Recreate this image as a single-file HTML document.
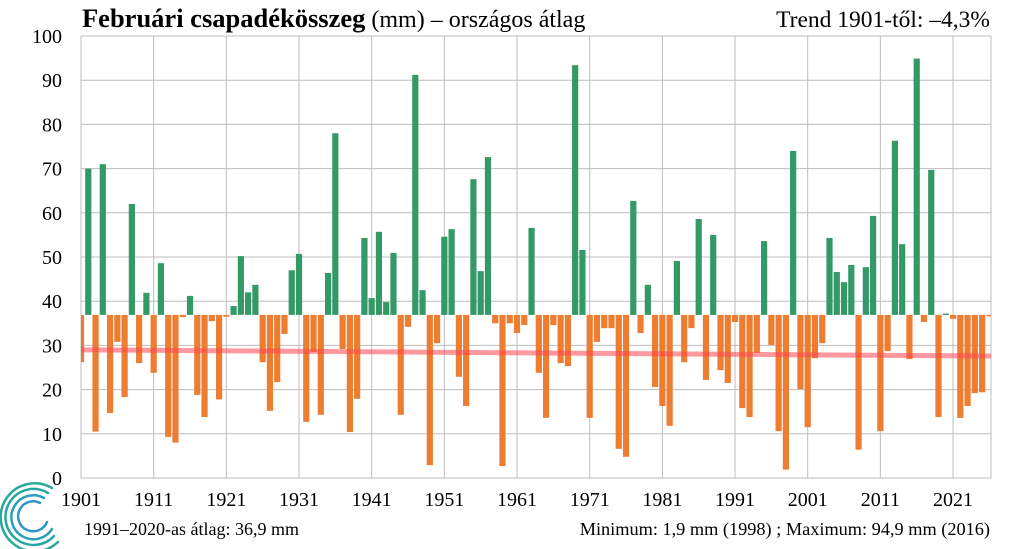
<!DOCTYPE html>
<html><head><meta charset="utf-8">
<style>
html,body{margin:0;padding:0;background:#fff;}
svg{display:block;font-family:"Liberation Serif",serif;}
</style></head>
<body>
<svg id="chart" width="1020" height="549" viewBox="0 0 1020 549">
  <text x="82" y="27" font-size="26.5"><tspan font-weight="bold">Februári csapadékösszeg</tspan><tspan font-size="24"> (mm) – országos átlag</tspan></text>
  <text x="990" y="27" font-size="23.5" text-anchor="end">Trend 1901-től: –4,3%</text>
  <g id="grid"></g>
  <g id="bars"></g>
  <g id="trend"></g>
  <g id="axes"></g>
  <text x="84" y="535" font-size="18">1991–2020-as átlag:  36,9 mm</text>
  <text x="990" y="535" font-size="18.3" text-anchor="end">Minimum:  1,9 mm (1998) ; Maximum:  94,9 mm (2016)</text>
  <g fill="none" stroke-linecap="round">
    <path d="M52 488 A34 34 0 1 0 58 542" stroke="#2aa89a" stroke-width="2.5"/>
    <path d="M48 493 A28 28 0 1 0 54 536" stroke="#28a7a0" stroke-width="2.5"/>
    <path d="M44 498 A22 22 0 1 0 52 529" stroke="#2aa0b8" stroke-width="2.5"/>
    <path d="M40 503 A15 15 0 1 0 47 522" stroke="#2f95c8" stroke-width="2.5"/>
  </g>
</svg>
<script>
const years = [];
for (let y = 1901; y <= 2026; y++) years.push(y);
const values = [26.2,70,10.5,71,14.7,30.8,18.3,62,26,41.9,
23.8,48.6,9.3,8,36.4,41.2,18.8,13.8,35.5,17.8,
36.5,38.9,50.2,42,43.7,26.2,15.2,21.7,32.6,47,
50.7,12.7,28.5,14.3,46.4,78,29.2,10.4,17.9,54.3,
40.7,55.7,39.8,50.9,14.3,34.2,91.2,42.5,2.9,30.5,
54.6,56.3,22.9,16.3,67.6,46.8,72.6,35,2.7,35,
32.8,34.6,56.6,23.8,13.6,34.6,26,25.3,93.4,51.6,
13.6,30.8,33.9,33.9,6.6,4.8,62.7,32.8,43.7,20.6,
16.3,11.8,49.1,26.2,33.9,58.6,22.2,55,24.4,21.5,
35.3,15.8,13.8,28.3,53.6,30.1,10.6,1.9,74,20.1,
11.5,27.1,30.5,54.3,46.6,44.3,48.2,6.4,47.7,59.3,
10.6,28.7,76.3,52.9,26.9,94.9,35.3,69.7,13.8,37.2,
36,13.6,16.3,19.2,19.4,36.6];
const baseline = 36.9;
const trendStart = 29.0, trendEnd = 27.6;
const yTicks = [0,10,20,30,40,50,60,70,80,90,100];
const xTickYears = [1901,1911,1921,1931,1941,1951,1961,1971,1981,1991,2001,2011,2021];

const NS = "http://www.w3.org/2000/svg";
const L = 81, R = 991, T = 36, B = 478;
const step = 7.267;
const xs = y => L + (y - 1901) * step;
const ys = v => B - (v / 100) * (B - T);
function mk(tag, attrs, parent) {
  const e = document.createElementNS(NS, tag);
  for (const k in attrs) e.setAttribute(k, attrs[k]);
  parent.appendChild(e);
  return e;
}
const grid = document.getElementById('grid'), bars = document.getElementById('bars'),
      trend = document.getElementById('trend'), axes = document.getElementById('axes');

yTicks.forEach(t => {
  const l = mk('line', {x1: L, x2: R, y1: ys(t), y2: ys(t), stroke: '#bdbdbd', 'stroke-width': 1}, grid);
  
  
  const tx = mk('text', {x: 62, y: ys(t) + 7, 'font-size': 20, 'text-anchor': 'end'}, axes);
  tx.textContent = t;
  
  
});
xTickYears.forEach(yr => {
  const l = mk('line', {x1: xs(yr), x2: xs(yr), y1: T, y2: B, stroke: '#bdbdbd', 'stroke-width': 1}, grid);
  
  
  const tx = mk('text', {x: xs(yr), y: 506, 'font-size': 20, 'text-anchor': 'middle'}, axes);
  tx.textContent = yr;
  
  
});
const rl = mk('line', {x1: R, x2: R, y1: T, y2: B, stroke: '#bdbdbd', 'stroke-width': 1}, grid);



const bw = 6.2;
values.forEach((v, i) => {
  const yr = years[i];
  let x = xs(yr) - bw / 2, w = bw;
  if (x < L) { w -= (L - x); x = L; }
  if (x + w > R) { w = R - x; }
  const top = Math.min(ys(v), ys(baseline)), h = Math.max(Math.abs(ys(v) - ys(baseline)), 0.8);
  const r = mk('rect', {x: x, y: top, width: w, height: h, fill: v >= baseline ? '#339966' : '#ed7d31'}, bars);
  
  
});
const tl = mk('line', {x1: L, x2: R, y1: ys(trendStart), y2: ys(trendEnd), stroke: 'rgba(255,70,80,0.55)', 'stroke-width': 5}, trend);


</script>
</body></html>
